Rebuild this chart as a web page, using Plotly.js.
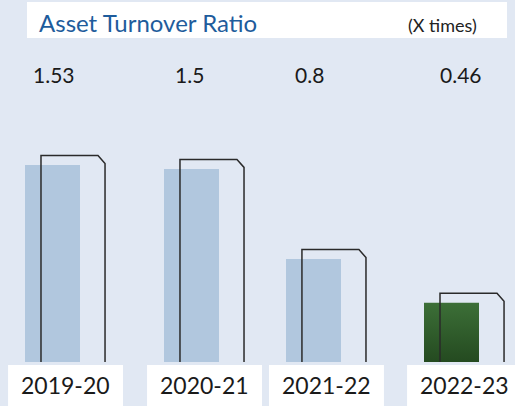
<!DOCTYPE html>
<html>
<head>
<meta charset="utf-8">
<script src="https://cdn.plot.ly/plotly-3.0.1.min.js"></script>
<style>html,body{margin:0;padding:0;background:#e1e8f3;}#chart{width:515px;height:406px;}</style>
</head>
<body>
<div id="chart"></div>
<script>
// ---- data ----
const categories = ["2019-20", "2020-21", "2021-22", "2022-23"];
const ratioValues = [1.53, 1.5, 0.8, 0.46];
const valueLabels = ["1.53", "1.5", "0.8", "0.46"];
const chartTitle = "Asset Turnover Ratio";
const unitLabel = "(X times)";

// ---- layout constants ----
const nudge = [0, 0.045, -0.038, 0];
const labelShift = [1, -2, -4, 9];
const barColors = ["#b1c7de", "#b1c7de", "#b1c7de", "#305e2b"];
const highlightIndex = 3;
const barW = 0.4135;
const xPos = categories.map((c, i) => i + nudge[i]);
const FONT = "Lato, 'Open Sans', sans-serif";

const traces = [];
traces.push({
  type: "bar", x: xPos, y: ratioValues, width: barW,
  marker: { color: barColors, line: { width: 0 } },
  hoverinfo: "skip", showlegend: false
});
// gradient overlay on the highlighted (latest) bar
{
  const c = xPos[highlightIndex], v = ratioValues[highlightIndex];
  traces.push({
    type: "scatter", mode: "lines",
    x: [c - barW / 2, c - barW / 2, c + barW / 2, c + barW / 2, c - barW / 2],
    y: [0, v, v, 0, 0],
    fill: "toself",
    fillgradient: { type: "vertical", colorscale: [[0, "#244a20"], [1, "#3c6f37"]] },
    line: { width: 0 },
    hoverinfo: "skip", showlegend: false
  });
}
// decorative outline frames, derived from each value
ratioValues.forEach((v, i) => {
  const c = xPos[i];
  const L = c - 0.0865, R = c + 0.395, top = v + 0.073;
  traces.push({
    type: "scatter", mode: "lines",
    x: [L, L, R - 0.053, R, R],
    y: [0, top, top, top - 0.062, 0],
    line: { color: "#2a2a2a", width: 1.5 },
    hoverinfo: "skip", showlegend: false
  });
});

const shapes = [{
  type: "rect", xref: "paper", yref: "paper",
  x0: 27 / 515, x1: 507 / 515, y0: 1 - 38 / 406, y1: 1 - 2 / 406,
  fillcolor: "#ffffff", line: { width: 0 }, layer: "above"
}];
const annotations = [
  { text: chartTitle, xref: "paper", yref: "paper", x: 37 / 515, y: 1 - 22 / 406,
    xanchor: "left", yanchor: "middle", showarrow: false,
    font: { family: FONT, size: 24, color: "#1e5c9c" } },
  { text: unitLabel, xref: "paper", yref: "paper", x: 479 / 515, y: 1 - 25 / 406,
    xanchor: "right", yanchor: "middle", showarrow: false,
    font: { family: FONT, size: 18, color: "#222222" } }
];
categories.forEach((cat, i) => {
  const c = xPos[i];
  shapes.push({
    type: "rect", xref: "x", yref: "paper",
    x0: c + 0.098 - 0.432, x1: c + 0.098 + 0.432, y0: -0.05, y1: 1 - 365 / 406,
    fillcolor: "#ffffff", line: { width: 0 }, layer: "above"
  });
  annotations.push({
    text: cat, xref: "x", yref: "paper", x: c + 0.098, y: 1 - 385 / 406,
    xanchor: "center", yanchor: "middle", showarrow: false,
    font: { family: FONT, size: 23, color: "#1a1a1a" }
  });
  annotations.push({
    text: valueLabels[i], xref: "x", yref: "paper", x: c, y: 1 - 75 / 406,
    xanchor: "center", yanchor: "middle", showarrow: false, xshift: labelShift[i],
    font: { family: FONT, size: 21, color: "#1a1a1a" }
  });
});

const layout = {
  width: 515, height: 406,
  margin: { l: 0, r: 0, t: 0, b: 0, pad: 0 },
  paper_bgcolor: "#e1e8f3", plot_bgcolor: "rgba(0,0,0,0)",
  xaxis: { range: [-0.3947, 3.4774], visible: false, fixedrange: true },
  yaxis: { range: [-0.3416, 2.8106], visible: false, fixedrange: true },
  shapes: shapes, annotations: annotations,
  showlegend: false, bargap: 0
};
Plotly.newPlot("chart", traces, layout, { staticPlot: true, displayModeBar: false });
</script>
</body>
</html>
